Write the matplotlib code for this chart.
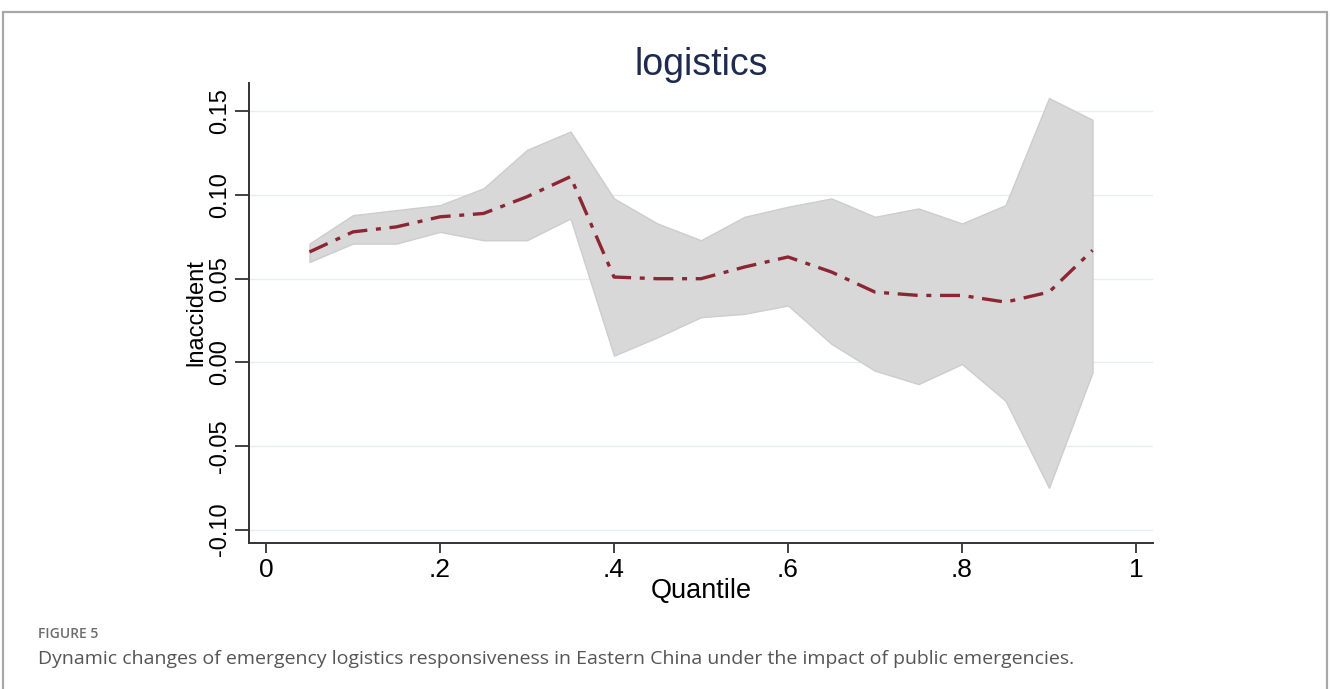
import matplotlib
matplotlib.use("Agg")
import matplotlib.pyplot as plt
from matplotlib.patches import Rectangle

quantiles = [0.05, 0.10, 0.15, 0.20, 0.25, 0.30, 0.35, 0.40, 0.45, 0.50,
             0.55, 0.60, 0.65, 0.70, 0.75, 0.80, 0.85, 0.90, 0.95]
coef = [0.066, 0.078, 0.081, 0.087, 0.089, 0.099, 0.111, 0.051, 0.050, 0.050,
        0.057, 0.063, 0.054, 0.042, 0.040, 0.040, 0.036, 0.042, 0.067]
upper = [0.071, 0.088, 0.091, 0.094, 0.104, 0.127, 0.138, 0.098, 0.083, 0.073,
         0.087, 0.093, 0.098, 0.087, 0.092, 0.083, 0.094, 0.158, 0.145]
lower = [0.060, 0.071, 0.071, 0.078, 0.073, 0.073, 0.086, 0.004, 0.015, 0.027,
         0.029, 0.034, 0.011, -0.005, -0.013, -0.001, -0.023, -0.075, -0.006]

x_ticks = [0, 0.2, 0.4, 0.6, 0.8, 1.0]
x_ticklabels = ["0", ".2", ".4", ".6", ".8", "1"]
y_ticks = [-0.10, -0.05, 0.00, 0.05, 0.10, 0.15]
y_ticklabels = ["-0.10", "-0.05", "0.00", "0.05", "0.10", "0.15"]

title = "logistics"
xlabel = "Quantile"
ylabel = "lnaccident"
fig_label = "FIGURE 5"
caption = ("Dynamic changes of emergency logistics responsiveness in Eastern China "
           "under the impact of public emergencies.")

W, H = 1330, 689
fig = plt.figure(figsize=(W / 100, H / 100), dpi=100)
fig.patch.set_facecolor("white")

# outer frame
fig.add_artist(Rectangle((3 / W, -0.05), (1327 - 3) / W, 1.05 - 12 / H,
                         transform=fig.transFigure, fill=False,
                         edgecolor="#a8a8a8", linewidth=1.6))

ax = fig.add_axes([249 / W, 146 / H, (1153 - 249) / W, (606 - 146) / H])

ax.fill_between(quantiles, lower, upper, facecolor="#d8d8d8",
                edgecolor="#cdcdcd", linewidth=1.0, zorder=2)
ax.plot(quantiles, coef, color="#8c2633", linewidth=2.4,
        dashes=(6, 2.6, 1.5, 2.6), zorder=3)

ax.set_xlim(-0.0195, 1.0195)
ax.set_ylim(-0.108, 0.167)

for y in y_ticks:
    ax.axhline(y, color="#e6eff0", linewidth=1.0, zorder=1)

ax.set_xticks(x_ticks)
ax.set_xticklabels(x_ticklabels, fontsize=19, family="Liberation Sans")
ax.set_yticks(y_ticks)
ax.set_yticklabels(y_ticklabels, fontsize=17, family="Liberation Sans",
                   rotation=90, va="center")

ax.tick_params(axis="x", length=7, width=1.3, color="#333333", pad=4)
ax.tick_params(axis="y", length=10, width=1.3, color="#333333", pad=3)

for s in ["top", "right"]:
    ax.spines[s].set_visible(False)
for s in ["left", "bottom"]:
    ax.spines[s].set_color("#333333")
    ax.spines[s].set_linewidth(1.4)

ax.set_xlabel(xlabel, fontsize=19.5, family="Liberation Sans", labelpad=-3)
ax.set_ylabel(ylabel, fontsize=17, family="Liberation Sans", labelpad=1)
ax.set_title(title, fontsize=27, family="Liberation Sans", color="#1f2a50",
             pad=4)

fig.text(38 / W, 1 - 634 / H, fig_label, fontsize=10, family="Open Sans",
         fontweight="semibold", color="#6d6d6d", va="center", ha="left")
fig.text(38 / W, 1 - 659 / H, caption, fontsize=14, family="Open Sans",
         color="#555555", va="center", ha="left")

fig.savefig("out.png", dpi=100, facecolor="white")
